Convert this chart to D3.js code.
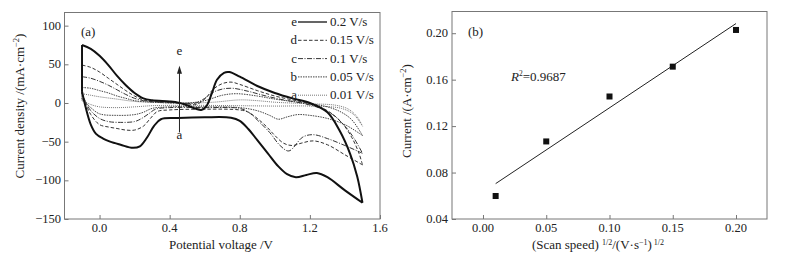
<!DOCTYPE html>
<html><head><meta charset="utf-8">
<script src="https://cdn.jsdelivr.net/npm/d3@7"></script>
<style>
body{margin:0;background:#fff;}
svg text{font-family:"Liberation Serif","Times New Roman",serif;fill:#222;}
</style></head>
<body><svg id="c" width="787" height="258"></svg>
<script>
// ---------- Panel (a) data: cyclic voltammograms (V, mA/cm2) ----------
const seriesNames = ["e","d","c","b","a"];
const seriesRates = ["0.2 V/s","0.15 V/s","0.1 V/s","0.05 V/s","0.01 V/s"];
const eUpper = [[-0.1,75],[-0.05,70],[0.0,61],[0.05,49],[0.1,35],[0.15,23],[0.2,13],[0.25,6],[0.3,3.5],[0.4,2],[0.45,0.5],[0.5,-3],[0.55,-7.5],[0.58,-9],[0.61,-4],[0.64,12],[0.67,30],[0.71,39],[0.74,40],[0.8,34],[0.9,22],[1.0,13],[1.1,6],[1.2,0],[1.3,-12],[1.37,-36],[1.43,-66],[1.47,-95],[1.5,-129]];
const eLower = [[1.5,-129],[1.4,-113],[1.3,-96],[1.24,-90.5],[1.18,-93],[1.12,-96],[1.07,-92],[1.02,-82],[0.96,-65],[0.9,-48],[0.85,-34],[0.8,-23],[0.75,-19],[0.6,-18.5],[0.45,-19.5],[0.35,-21],[0.31,-30],[0.27,-45],[0.23,-56],[0.19,-58],[0.12,-54],[0.06,-50],[0.02,-46],[-0.02,-40],[-0.05,-28],[-0.08,-5],[-0.1,15]];
const dUpper = [[-0.1,49],[-0.05,46],[0.0,40],[0.05,32],[0.1,24],[0.15,16],[0.2,9],[0.25,4],[0.3,2],[0.4,1],[0.5,-1],[0.55,-2],[0.6,5],[0.65,18],[0.7,25],[0.75,27],[0.8,24],[0.9,16],[1.0,9],[1.1,4],[1.2,-1],[1.3,-10],[1.38,-25],[1.44,-45],[1.48,-65],[1.5,-80]];
const dLower = [[1.5,-80],[1.4,-67],[1.3,-54],[1.22,-49],[1.15,-52],[1.1,-55],[1.05,-52],[1.0,-42],[0.95,-30],[0.9,-20],[0.85,-12],[0.8,-9],[0.6,-8],[0.4,-9],[0.33,-11],[0.29,-20],[0.25,-30],[0.2,-35],[0.15,-35],[0.1,-33],[0.05,-31],[0.0,-28],[-0.05,-15],[-0.08,0],[-0.1,12]];
const cUpper = [[-0.1,34],[-0.05,32],[0.0,28],[0.05,23],[0.1,17],[0.15,11],[0.2,6],[0.25,3],[0.3,1.5],[0.4,0.5],[0.5,-0.5],[0.55,0],[0.6,6],[0.65,14],[0.7,18],[0.76,19],[0.85,15],[0.95,9],[1.05,4],[1.15,0],[1.25,-6],[1.33,-15],[1.4,-30],[1.45,-45],[1.5,-65]];
const cLower = [[1.5,-65],[1.4,-55],[1.3,-46],[1.22,-41],[1.16,-44],[1.08,-62],[1.03,-55],[0.97,-38],[0.9,-22],[0.85,-12],[0.8,-7],[0.6,-6],[0.4,-6],[0.32,-8],[0.28,-14],[0.24,-20],[0.2,-24],[0.1,-25],[0.05,-24],[0.0,-20],[-0.05,-10],[-0.08,2],[-0.1,12]];
const bUpper = [[-0.1,20],[-0.05,19],[0.0,16],[0.05,13],[0.1,9],[0.15,6],[0.2,3],[0.3,1],[0.5,0],[0.6,3],[0.7,10],[0.78,12],[0.9,9],[1.0,5],[1.1,2],[1.2,-1],[1.3,-5],[1.38,-12],[1.44,-22],[1.5,-42]];
const bLower = [[1.5,-42],[1.4,-28],[1.3,-20],[1.2,-16],[1.13,-15],[1.07,-18],[1.02,-21],[0.97,-16],[0.9,-10],[0.8,-6],[0.6,-5],[0.4,-5],[0.3,-7],[0.25,-12],[0.2,-15],[0.1,-16],[0.0,-14],[-0.05,-6],[-0.1,5]];
const aUpper = [[-0.1,12],[-0.05,10],[0.0,8],[0.1,5],[0.2,2],[0.3,1],[0.5,0],[0.65,1],[0.8,4],[0.9,3],[1.0,1],[1.2,-1],[1.35,-3],[1.42,-8],[1.47,-18],[1.5,-30]];
const aLower = [[1.5,-30],[1.45,-15],[1.38,-7],[1.2,-4],[1.0,-4],[0.8,-3.5],[0.5,-3],[0.3,-3.5],[0.2,-5],[0.1,-6],[0.0,-5],[-0.05,-2],[-0.1,3]];
const aTicksX = [0.0,0.4,0.8,1.2,1.6];
const aTicksY = [-150,-100,-50,0,50,100];

// ---------- Panel (b) data ----------
const speed = [0.01,0.05,0.10,0.15,0.20];
const peakCurrent = [0.0598,0.1068,0.1455,0.1712,0.2028];
const bTicksX = [0.00,0.05,0.10,0.15,0.20];
const bTicksY = [0.04,0.08,0.12,0.16,0.20];

const svg = d3.select("#c");
const frame = "#777";
const FT = 12.5, FL = 13;

// ================= Panel (a) =================
const ax = d3.scaleLinear().domain([-0.2,1.6]).range([64.5,380]);
const ay = d3.scaleLinear().domain([-150,117]).range([219,12.5]);

const ga = svg.append("g");
ga.append("rect").attr("x",64.5).attr("y",12.5).attr("width",380-64.5).attr("height",219-12.5)
  .attr("fill","none").attr("stroke",frame).attr("stroke-width",1);
const fmtA = d3.format(".1f");
ga.append("g").attr("transform","translate(0,219)")
  .call(d3.axisTop(ax).tickValues(aTicksX).tickSize(4).tickFormat(()=>""))
  .call(g=>{g.select(".domain").remove();g.selectAll("line").attr("stroke",frame);});
ga.selectAll(".xl").data(aTicksX).join("text").attr("class","xl")
  .attr("x",d=>ax(d)).attr("y",232).attr("text-anchor","middle").attr("font-size",FT).text(d=>fmtA(d));
ga.append("g").attr("transform","translate(64.5,0)")
  .call(d3.axisRight(ay).tickValues(aTicksY).tickSize(4).tickFormat(()=>""))
  .call(g=>{g.select(".domain").remove();g.selectAll("line").attr("stroke",frame);});
ga.selectAll(".yl").data(aTicksY).join("text").attr("class","yl")
  .attr("x",61).attr("y",d=>ay(d)+4).attr("text-anchor","end").attr("font-size",FT)
  .text(d=>d3.format("d")(d).replace("-","\u2212"));
ga.append("text").attr("x",221).attr("y",249).attr("text-anchor","middle").attr("font-size",FL).text("Potential voltage /V");
ga.append("text").attr("transform","translate(24,106) rotate(-90)").attr("text-anchor","middle").attr("font-size",FL)
  .html('Current density /(mA·cm<tspan dy="-5" font-size="8.5">−2</tspan><tspan dy="5">)</tspan>');
ga.append("text").attr("x",81).attr("y",36).attr("font-size",FL).text("(a)");

const styles = {
  e:{w:2.0,dash:null,col:"#111"},
  d:{w:1.0,dash:"3.5,2",col:"#333"},
  c:{w:1.0,dash:"5,1.5,1,1.5",col:"#333"},
  b:{w:1.0,dash:"1.5,1",col:"#444"},
  a:{w:1.0,dash:"1,1",col:"#777"}
};
const cv = {e:[eUpper,eLower],d:[dUpper,dLower],c:[cUpper,cLower],b:[bUpper,bLower],a:[aUpper,aLower]};
const lineA = d3.line().x(d=>ax(d[0])).y(d=>ay(d[1])).curve(d3.curveCatmullRom.alpha(0.5));
const lineStraight = d3.line().x(d=>ax(d[0])).y(d=>ay(d[1]));
["a","b","c","d","e"].forEach(k=>{
  const [up,lo] = cv[k]; const s = styles[k];
  const add = (p)=>ga.append("path").attr("d",p).attr("fill","none").attr("stroke",s.col)
     .attr("stroke-width",s.w).attr("stroke-dasharray",s.dash).attr("stroke-linejoin","round");
  add(lineA(up)); add(lineA(lo));
  add(lineStraight([lo[lo.length-1],up[0]]));
});

// arrow
ga.append("line").attr("x1",ax(0.456)).attr("x2",ax(0.456)).attr("y1",ay(-38)).attr("y2",ay(42))
  .attr("stroke","#222").attr("stroke-width",1);
ga.append("path").attr("d",`M${ax(0.456)},${ay(48)} l-2.5,8 l5,0 z`).attr("fill","#222");
ga.append("text").attr("x",ax(0.456)).attr("y",ay(62)).attr("text-anchor","middle").attr("font-size",FL).text("e");
ga.append("text").attr("x",ax(0.456)).attr("y",ay(-46)).attr("text-anchor","middle").attr("font-size",FL).text("a");

// legend
seriesNames.forEach((k,i)=>{
  const y = 22 + i*18.3; const s = styles[k];
  ga.append("text").attr("x",297).attr("y",y+4).attr("text-anchor","end").attr("font-size",FL).text(k);
  ga.append("line").attr("x1",298).attr("x2",327).attr("y1",y).attr("y2",y)
    .attr("stroke",s.col).attr("stroke-width",k==="e"?1.3:1).attr("stroke-dasharray",s.dash);
  ga.append("text").attr("x",330).attr("y",y+4).attr("font-size",FL).text(seriesRates[i]);
});

// ================= Panel (b) =================
const bx = d3.scaleLinear().domain([-0.0245,0.2245]).range([452,767]);
const by = d3.scaleLinear().domain([0.04,0.2187]).range([219,11.5]);
const gb = svg.append("g");
gb.append("rect").attr("x",452).attr("y",11.5).attr("width",767-452).attr("height",219-11.5)
  .attr("fill","none").attr("stroke",frame).attr("stroke-width",1);
gb.append("g").attr("transform","translate(0,219)")
  .call(d3.axisTop(bx).tickValues(bTicksX).tickSize(4).tickFormat(()=>""))
  .call(g=>{g.select(".domain").remove();g.selectAll("line").attr("stroke",frame);});
gb.selectAll(".xl").data(bTicksX).join("text").attr("class","xl")
  .attr("x",d=>bx(d)).attr("y",232).attr("text-anchor","middle").attr("font-size",FT).text(d=>d3.format(".2f")(d));
gb.append("g").attr("transform","translate(452,0)")
  .call(d3.axisRight(by).tickValues(bTicksY).tickSize(4).tickFormat(()=>""))
  .call(g=>{g.select(".domain").remove();g.selectAll("line").attr("stroke",frame);});
gb.selectAll(".yl").data(bTicksY).join("text").attr("class","yl")
  .attr("x",448).attr("y",d=>by(d)+4).attr("text-anchor","end").attr("font-size",FT).text(d=>d3.format(".2f")(d));
gb.append("text").attr("x",598).attr("y",249).attr("text-anchor","middle").attr("font-size",FL)
  .html('(Scan speed) <tspan dy="-4" font-size="8">1/2</tspan><tspan dy="4">/(V·s</tspan><tspan dy="-4" font-size="8">−1</tspan><tspan dy="4">)</tspan><tspan dy="-4" font-size="8"> 1/2</tspan>');
gb.append("text").attr("transform","translate(411,111) rotate(-90)").attr("text-anchor","middle").attr("font-size",FL)
  .html('Current /(A·cm<tspan dy="-5" font-size="8.5">−2</tspan><tspan dy="5">)</tspan>');
gb.append("text").attr("x",468).attr("y",36).attr("font-size",FL).text("(b)");
gb.append("text").attr("x",511).attr("y",81).attr("font-size",FL)
  .html('<tspan font-style="italic">R</tspan><tspan dy="-5" font-size="7.5">2</tspan><tspan dy="5">=0.9687</tspan>');

// linear fit from the data
const mx = d3.mean(speed), my = d3.mean(peakCurrent);
const slope = d3.sum(speed,(x,i)=>(x-mx)*(peakCurrent[i]-my))/d3.sum(speed,x=>(x-mx)*(x-mx));
const icpt = my - slope*mx;
const x0 = d3.min(speed), x1 = d3.max(speed);
gb.append("line").attr("x1",bx(x0)).attr("y1",by(icpt+slope*x0)).attr("x2",bx(x1)).attr("y2",by(icpt+slope*x1))
  .attr("stroke","#222").attr("stroke-width",1);
gb.selectAll(".pt").data(speed).join("rect").attr("class","pt")
  .attr("x",(d)=>bx(d)-3).attr("y",(d,i)=>by(peakCurrent[i])-3).attr("width",6).attr("height",6).attr("fill","#111");
</script></body></html>
